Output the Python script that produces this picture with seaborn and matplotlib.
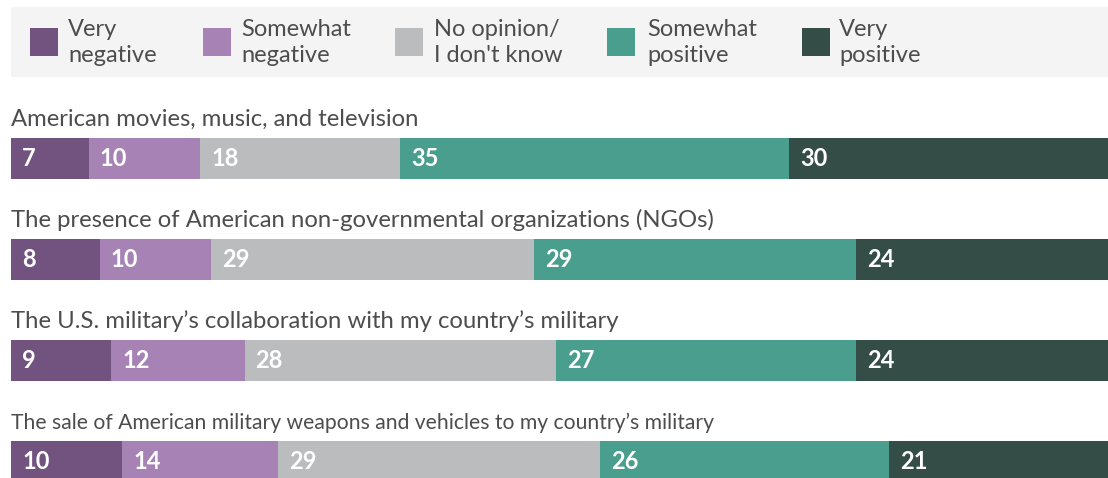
import matplotlib
matplotlib.use("Agg")
import matplotlib.pyplot as plt
import matplotlib.transforms as mtransforms
from matplotlib.patches import Rectangle
import numpy as np
import pandas as pd
import seaborn as sns

# ---- data -------------------------------------------------------------
items = [
    "American movies, music, and television",
    "The presence of American non-governmental organizations (NGOs)",
    "The U.S. military\u2019s collaboration with my country\u2019s military",
    "The sale of American military weapons and vehicles to my country\u2019s military",
]
very_negative = [7, 8, 9, 10]
somewhat_negative = [10, 10, 12, 14]
no_opinion = [18, 29, 28, 29]
somewhat_positive = [35, 29, 27, 26]
very_positive = [30, 24, 24, 21]

series_names = ["Very negative", "Somewhat negative", "No opinion",
                "Somewhat positive", "Very positive"]
legend_lines = [["Very", "negative"], ["Somewhat", "negative"],
                ["No opinion/", "I don't know"], ["Somewhat", "positive"],
                ["Very", "positive"]]
palette = ["#72527f", "#a782b4", "#bbbcbe", "#4a9e8d", "#344d47"]

# ---- style ------------------------------------------------------------
sns.set_style("white")
plt.rcParams["font.family"] = ["Lato", "DejaVu Sans"]
TEXT = "#4d4d4d"

W, H = 1108, 478
fig = plt.figure(figsize=(W / 100, H / 100), dpi=100)

# long table with running totals for the stacked segments
values = [very_negative, somewhat_negative, no_opinion,
          somewhat_positive, very_positive]
rows = []
for s, name in enumerate(series_names):
    for i, item in enumerate(items):
        total = sum(v[i] for v in values[: s + 1])
        rows.append({"item": item, "series": name,
                     "value": values[s][i], "cum": total})
df = pd.DataFrame(rows)

# bar area: the 0-100 scale runs slightly past the right edge of the canvas
ax_left, ax_right = 11, 1123
ax_top, ax_bot = 88, 478
ax = fig.add_axes([ax_left / W, (H - ax_bot) / H,
                   (ax_right - ax_left) / W, (ax_bot - ax_top) / H])

spacing = 101.0
first_center = 158.5
bar_h = 41 / spacing

# draw from the outermost running total inwards so each segment stays visible
for s in reversed(range(len(series_names))):
    sub = df[df["series"] == series_names[s]]
    sns.barplot(data=sub, x="cum", y="item", order=items, orient="h",
                color=palette[s], saturation=1, width=bar_h,
                linewidth=0, edgecolor="none", errorbar=None, ax=ax)

ax.set_xlim(0, 100)
ax.set_ylim((ax_bot - first_center) / spacing, (ax_top - first_center) / spacing)
ax.axis("off")

# segment value labels
lbl_tf = mtransforms.offset_copy(ax.transData, fig=fig, x=11, y=0, units="dots")
for _, r in df.iterrows():
    i = items.index(r["item"])
    ax.text(r["cum"] - r["value"], i, f"{r['value']}", transform=lbl_tf,
            ha="left", va="center", color="white", fontsize=17,
            fontweight="bold")

# item titles above each bar (the longest one is set a little smaller)
title_sizes = [17.2, 17.2, 17.2, 15.2]
for i, item in enumerate(items):
    ax.text(0, i - bar_h / 2 - 12 / spacing, item, ha="left", va="baseline",
            fontsize=title_sizes[i], color=TEXT)

# ---- legend panel -----------------------------------------------------
lg = fig.add_axes([0, 0, 1, 1], zorder=-1)
lg.set_xlim(0, W)
lg.set_ylim(H, 0)
lg.axis("off")
lg.add_patch(Rectangle((11, 7), W, 70, facecolor="#f4f4f4",
                       edgecolor="none"))
sq_x = [30, 203, 395, 607, 802]
tx_x = [68, 241, 434, 647, 839]
for k in range(len(series_names)):
    lg.add_patch(Rectangle((sq_x[k], 28), 28, 28, facecolor=palette[k],
                           edgecolor="none"))
    for j, line in enumerate(legend_lines[k]):
        lg.text(tx_x[k], 36 + 26 * j, line, ha="left", va="baseline",
                fontsize=17, color=TEXT)

fig.savefig("out.png", dpi=100)
